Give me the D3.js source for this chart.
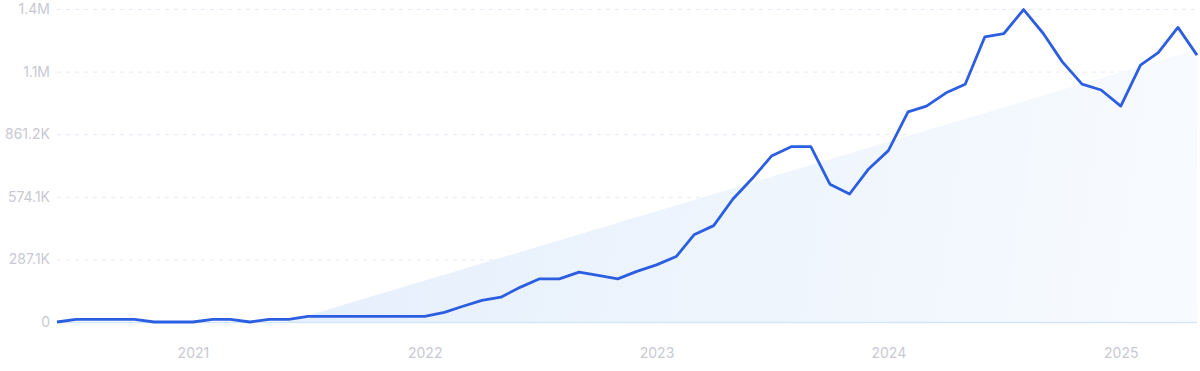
<!DOCTYPE html>
<html>
<head>
<meta charset="utf-8">
<script src="https://cdn.jsdelivr.net/npm/d3@7"></script>
<style>
  body { margin: 0; background: #fff; }
  svg { display: block; font-family: Inter, "Noto Sans", sans-serif; }
</style>
</head>
<body>
<div id="chart"></div>
<script>
// monthly values, Jun 2020 .. May 2025
var startMonth = "2020-06";
var values = [
  0, 12000, 12000, 12000, 12000, 0, 0,
  0, 12000, 12000, 0, 12000, 12000, 26000, 26000, 26000, 26000, 26000, 26000,
  26000, 44000, 71000, 99000, 114000, 160000, 198000, 198000, 229000, 214000, 198000, 232000,
  262000, 300000, 400000, 442000, 563000, 659000, 761000, 804000, 804000, 632000, 587000, 702000,
  786000, 964000, 990000, 1051000, 1090000, 1308000, 1323000, 1433000, 1323000, 1193000, 1091000, 1064000,
  990000, 1178000, 1235000, 1351000, 1224000
];
// trend band end points
var trendDates = ["2021-05-28", "2025-05-01"];
var trendValues = [0, 1250000];

var yTicks = [0, 287080, 574160, 861240, 1148320, 1435400];
var yLabels = ["0", "287.1K", "574.1K", "861.2K", "1.1M", "1.4M"];
var xTicks = ["2021", "2022", "2023", "2024", "2025"];

var width = 1200, height = 371;
var plotLeft = 57, plotRight = 1197, plotTop = 9, plotBottom = 322;

var parseMonth = d3.timeParse("%Y-%m");
var parseDay = d3.timeParse("%Y-%m-%d");
var t0 = parseMonth(startMonth);
var data = values.map(function(v, i) {
  return { date: d3.timeMonth.offset(t0, i), value: v };
});
var trend = trendDates.map(function(d, i) {
  return { date: parseDay(d), value: trendValues[i] };
});

var x = d3.scaleTime()
  .domain([data[0].date, data[data.length - 1].date])
  .range([plotLeft, plotRight]);
var y = d3.scaleLinear()
  .domain([0, 1435400])
  .range([plotBottom, plotTop]);

var svg = d3.select("#chart").append("svg")
  .attr("width", width)
  .attr("height", height);

var defs = svg.append("defs");
var grad = defs.append("linearGradient")
  .attr("id", "trendFill")
  .attr("gradientUnits", "userSpaceOnUse")
  .attr("x1", 300).attr("y1", 200)
  .attr("x2", 1197).attr("y2", 330);
grad.append("stop").attr("offset", "0").attr("stop-color", "#e5effc");
grad.append("stop").attr("offset", "1").attr("stop-color", "#f8fbfe");

// grid lines
svg.append("g").selectAll("line")
  .data(yTicks.slice(1))
  .enter().append("line")
  .attr("x1", plotLeft)
  .attr("x2", plotRight)
  .attr("y1", function(d) { return y(d) + 0.5; })
  .attr("y2", function(d) { return y(d) + 0.5; })
  .style("stroke", "#e3ebf7")
  .style("stroke-width", 1)
  .style("stroke-dasharray", "4,5");

// trend band
var area = d3.area()
  .x(function(d) { return x(d.date); })
  .y0(y(0))
  .y1(function(d) { return y(d.value); });
svg.append("path")
  .datum(trend)
  .attr("d", area)
  .style("fill", "url(#trendFill)");

// baseline
svg.append("line")
  .attr("x1", plotLeft)
  .attr("x2", plotRight)
  .attr("y1", y(0) + 0.5)
  .attr("y2", y(0) + 0.5)
  .style("stroke", "#d3e6f8")
  .style("stroke-width", 1.5);

// y axis labels
var yAxis = d3.axisLeft(y)
  .tickValues(yTicks)
  .tickFormat(function(d, i) { return yLabels[i]; })
  .tickSize(0)
  .tickPadding(7);
svg.append("g")
  .attr("transform", "translate(" + plotLeft + ",0)")
  .call(yAxis)
  .call(function(g) { g.select(".domain").remove(); })
  .selectAll("text")
  .style("font-size", "14px")
  .style("fill", "#c9c9d3")
  .style("font-family", "Inter, sans-serif");

// x axis labels
var xAxis = d3.axisBottom(x)
  .tickValues(xTicks.map(function(d) { return d3.timeParse("%Y")(d); }))
  .tickFormat(d3.timeFormat("%Y"))
  .tickSize(0)
  .tickPadding(26);
svg.append("g")
  .attr("transform", "translate(0," + plotBottom + ")")
  .call(xAxis)
  .call(function(g) { g.select(".domain").remove(); })
  .selectAll("text")
  .style("font-size", "14px")
  .style("fill", "#c9c9d3")
  .style("font-family", "Inter, sans-serif");

// main line
var line = d3.line()
  .x(function(d) { return x(d.date); })
  .y(function(d) { return y(d.value); });
svg.append("path")
  .datum(data)
  .attr("d", line)
  .style("fill", "none")
  .style("stroke", "#2c5ee1")
  .style("stroke-width", 2.8)
  .style("stroke-linejoin", "round");
</script>
</body>
</html>
